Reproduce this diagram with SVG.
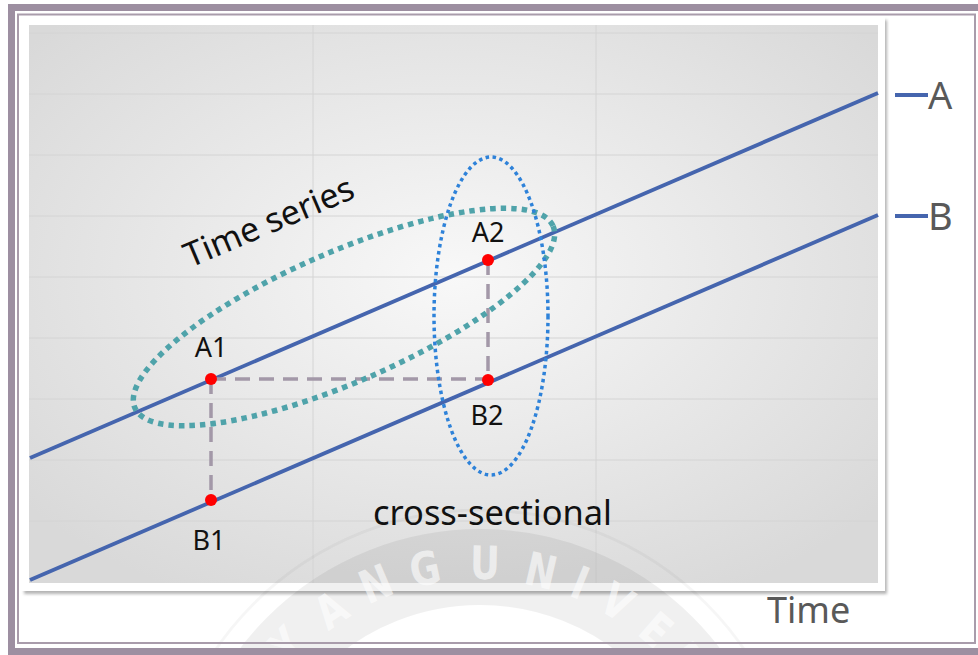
<svg xmlns="http://www.w3.org/2000/svg" width="978" height="655" viewBox="0 0 978 655">
  <defs>
    <radialGradient id="plotBg" cx="0.5" cy="0.45" r="0.65">
      <stop offset="0" stop-color="#f8f8f8"/>
      <stop offset="1" stop-color="#d9d9d9"/>
    </radialGradient>
    <filter id="shadow" x="-5%" y="-5%" width="110%" height="110%">
      <feGaussianBlur stdDeviation="1.5"/>
    </filter>
    <style>
      .grid { stroke: #d4d4d4; stroke-width: 1; fill: none; }
      .series { stroke: #4565ae; stroke-width: 3.8; fill: none; stroke-linecap: butt; }
      .guide { stroke: #a398a8; stroke-width: 3.5; fill: none; stroke-dasharray: 15 9; }
      .pt { fill: #ff0000; }
      .lbl { font-family: "Noto Sans", "Open Sans", sans-serif; fill: #111111; }
      .axis { font-family: "Noto Sans", "Open Sans", sans-serif; fill: #595959; }
      .wm { font-family: "DejaVu Sans", sans-serif; font-weight: bold; font-size: 46px; fill: #ffffff; fill-opacity: 0.6; text-anchor: middle; }
    </style>
  </defs>

  <rect x="0" y="0" width="978" height="655" fill="#ffffff"/>

  <!-- chart box with shadow -->
  <rect x="24" y="20" width="863" height="574" fill="#777777" opacity="0.55" filter="url(#shadow)"/>
  <rect x="21" y="17" width="864" height="574" fill="#ffffff"/>
  <rect x="29" y="25" width="849" height="558" fill="url(#plotBg)"/>

  <!-- gridlines -->
  <g id="gridlines">
    <line class="grid" x1="29" y1="33" x2="878" y2="33"/>
    <line class="grid" x1="29" y1="94" x2="878" y2="94"/>
    <line class="grid" x1="29" y1="155" x2="878" y2="155"/>
    <line class="grid" x1="29" y1="216" x2="878" y2="216"/>
    <line class="grid" x1="29" y1="277" x2="878" y2="277"/>
    <line class="grid" x1="29" y1="338" x2="878" y2="338"/>
    <line class="grid" x1="29" y1="399" x2="878" y2="399"/>
    <line class="grid" x1="29" y1="460" x2="878" y2="460"/>
    <line class="grid" x1="29" y1="521" x2="878" y2="521"/>
    <line class="grid" x1="313" y1="25" x2="313" y2="583"/>
    <line class="grid" x1="596" y1="25" x2="596" y2="583"/>
  </g>

  <!-- faint watermark seal -->
  <g id="watermark">
    <circle cx="480" cy="830" r="263" fill="none" stroke="#000000" stroke-opacity="0.06" stroke-width="76"/>
    <circle cx="480" cy="830" r="320" fill="none" stroke="#000000" stroke-opacity="0.035" stroke-width="3"/>
    <text class="wm" transform="translate(287 645) rotate(-46) scale(0.8 1)" y="16">Y</text>
    <text class="wm" transform="translate(331 610) rotate(-34) scale(0.8 1)" y="16">A</text>
    <text class="wm" transform="translate(376 584) rotate(-23) scale(0.8 1)" y="16">N</text>
    <text class="wm" transform="translate(425 569) rotate(-12) scale(0.8 1)" y="16">G</text>
    <text class="wm" transform="translate(485 563) rotate(1) scale(0.8 1)" y="16">U</text>
    <text class="wm" transform="translate(541 571) rotate(13) scale(0.8 1)" y="16">N</text>
    <text class="wm" transform="translate(580 583) rotate(22) scale(0.8 1)" y="16">I</text>
    <text class="wm" transform="translate(617 602) rotate(31) scale(0.8 1)" y="16">V</text>
    <text class="wm" transform="translate(656 630) rotate(41) scale(0.8 1)" y="16">E</text>
    <text class="wm" transform="translate(686 660) rotate(51) scale(0.8 1)" y="16">R</text>
  </g>

  <!-- outer frame -->
  <rect x="11.5" y="7.5" width="975" height="644" fill="none" stroke="#9d8fa1" stroke-width="7"/>
  <rect x="18" y="14.5" width="957" height="628.5" fill="none" stroke="#a99cab" stroke-width="2"/>

  <!-- connectors: series lines, guides, ellipses -->
  <g id="connectors">
    <line id="lineA" class="series" x1="30" y1="458" x2="878" y2="93"/>
    <line id="lineB" class="series" x1="30" y1="580" x2="878" y2="215"/>
    <line class="guide" x1="211" y1="379" x2="488" y2="379"/>
    <line class="guide" x1="211" y1="379" x2="211" y2="500"/>
    <line class="guide" x1="488" y1="260" x2="488" y2="380"/>
    <ellipse id="timeSeriesEllipse" cx="344" cy="317" rx="228" ry="65" transform="rotate(-23.5 344 317)" fill="none" stroke="#4fa3aa" stroke-width="5.5" stroke-dasharray="5.5 5"/>
    <ellipse id="crossSectionEllipse" cx="491" cy="316" rx="57" ry="159" fill="none" stroke="#2e82d9" stroke-width="3.5" stroke-dasharray="3.5 3.5"/>
  </g>

  <!-- points -->
  <g id="A1">
    <circle class="pt" cx="211" cy="379" r="6"/>
    <text class="lbl" x="211" y="357" font-size="27" text-anchor="middle">A1</text>
  </g>
  <g id="A2">
    <circle class="pt" cx="488" cy="260" r="6"/>
    <text class="lbl" x="488" y="242" font-size="27" text-anchor="middle">A2</text>
  </g>
  <g id="B1">
    <circle class="pt" cx="211" cy="500" r="6"/>
    <text class="lbl" x="209" y="550" font-size="27" text-anchor="middle">B1</text>
  </g>
  <g id="B2">
    <circle class="pt" cx="488" cy="380" r="6"/>
    <text class="lbl" x="487" y="425" font-size="27" text-anchor="middle">B2</text>
  </g>

  <!-- annotations -->
  <g id="timeSeriesLabel">
    <text class="lbl" x="0" y="0" font-size="34" transform="translate(190 268) rotate(-23)">Time series</text>
  </g>
  <g id="crossSectionalLabel">
    <text class="lbl" x="373" y="525" font-size="35" textLength="239" lengthAdjust="spacingAndGlyphs">cross-sectional</text>
  </g>

  <!-- legend -->
  <g id="legendA">
    <line class="series" x1="895" y1="95" x2="928" y2="95"/>
    <text class="axis" x="928" y="109" font-size="38">A</text>
  </g>
  <g id="legendB">
    <line class="series" x1="895" y1="216" x2="928" y2="216"/>
    <text class="axis" x="928" y="230" font-size="38">B</text>
  </g>

  <!-- axis title -->
  <g id="timeAxisLabel">
    <text class="axis" x="767" y="623" font-size="36">Time</text>
  </g>
</svg>
